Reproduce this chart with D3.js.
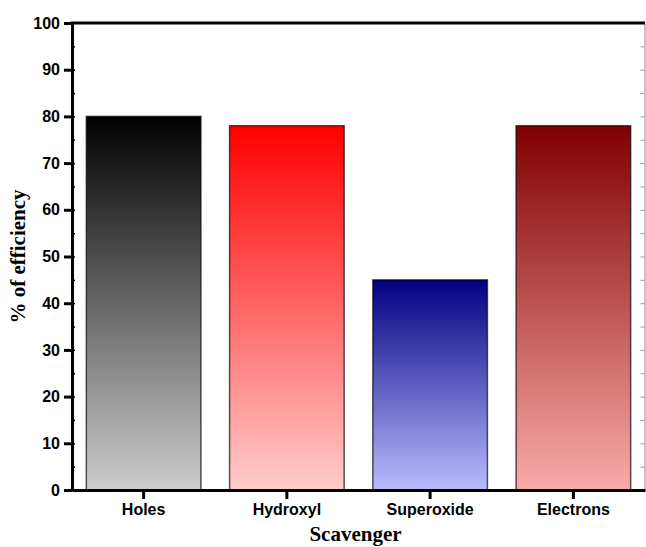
<!DOCTYPE html>
<html>
<head>
<meta charset="utf-8">
<script src="https://cdn.jsdelivr.net/npm/d3@7"></script>
<style>
	body { margin: 0; background: #fff; }
	.tick text { font-family: "Liberation Sans", Arial, sans-serif; font-weight: bold; font-size: 16px; fill: #000; }
	.title { font-family: "Liberation Serif", "Times New Roman", serif; font-weight: bold; font-size: 21px; }
</style>
</head>
<body>
<script>
const categories = ["Holes", "Hydroxyl", "Superoxide", "Electrons"];
const efficiency = [80, 78, 45, 78];
const topColors = ["#000000", "#ff0000", "#000080", "#800000"];
const bottomColors = ["#cccccc", "#ffcccc", "#bbbbff", "#faaaaa"];
const yTicks = [0, 10, 20, 30, 40, 50, 60, 70, 80, 90, 100];

const W = 646, H = 547;
const m = { top: 23, right: 1, bottom: 57, left: 72 };

const svg = d3.select("body").append("svg")
	.attr("width", W)
	.attr("height", H);

const x = d3.scaleBand()
	.domain(categories)
	.range([m.left, W - m.right])
	.paddingInner(0.2)
	.paddingOuter(0.1);

const y = d3.scaleLinear()
	.domain([0, 100])
	.range([H - m.bottom, m.top]);

const defs = svg.append("defs");
categories.forEach((c, i) => {
	const g = defs.append("linearGradient")
		.attr("id", `grad-${i}`)
		.attr("x1", 0).attr("y1", 0)
		.attr("x2", 0).attr("y2", 1);
	g.append("stop").attr("offset", "0%").attr("stop-color", topColors[i]);
	g.append("stop").attr("offset", "100%").attr("stop-color", bottomColors[i]);
});

// bars
svg.append("g")
	.selectAll("rect")
	.data(categories)
	.enter().append("rect")
	.attr("x", d => x(d))
	.attr("width", x.bandwidth())
	.attr("y", (d, i) => y(efficiency[i]))
	.attr("height", (d, i) => y(0) - y(efficiency[i]))
	.attr("fill", (d, i) => `url(#grad-${i})`)
	.attr("stroke", "#000")
	.attr("stroke-opacity", 0.65)
	.attr("stroke-width", 1.5);

// right frame (thin) with inward ticks
const right = svg.append("g")
	.attr("transform", `translate(${W - m.right - 0.5},0)`)
	.call(d3.axisRight(y).ticks(20).tickSize(-4).tickFormat(""));
right.select(".domain").attr("stroke", "#888").attr("stroke-width", 1);
right.selectAll(".tick line").attr("stroke", "#999");

// left minor ticks (inward)
svg.append("g")
	.attr("transform", `translate(${m.left},0)`)
	.call(d3.axisRight(y).ticks(20).tickSize(3).tickFormat(""))
	.call(g => g.select(".domain").remove())
	.selectAll(".tick line").attr("stroke", "#000").attr("stroke-width", 1.5);

// left axis
const left = svg.append("g")
	.attr("transform", `translate(${m.left},0)`)
	.call(d3.axisLeft(y).tickValues(yTicks).tickSize(8).tickPadding(4).tickSizeOuter(0));
left.select(".domain").attr("stroke-width", 3);
left.selectAll(".tick line").attr("stroke-width", 3);

// bottom axis
const bottom = svg.append("g")
	.attr("transform", `translate(0,${y(0)})`)
	.call(d3.axisBottom(x).tickSize(9).tickPadding(5).tickSizeOuter(0));
bottom.select(".domain").attr("stroke-width", 3);
bottom.selectAll(".tick line").attr("stroke-width", 3);

// top frame
svg.append("line")
	.attr("x1", m.left - 1.5).attr("x2", W - m.right)
	.attr("y1", y(100)).attr("y2", y(100))
	.attr("stroke", "#000")
	.attr("stroke-width", 3);

// titles
svg.append("text")
	.attr("class", "title")
	.attr("transform", `translate(25,${(y(0) + y(100)) / 2}) rotate(-90)`)
	.attr("text-anchor", "middle")
	.text("% of efficiency");

svg.append("text")
	.attr("class", "title")
	.attr("x", (m.left + W - m.right) / 2 - 3)
	.attr("y", 541)
	.attr("text-anchor", "middle")
	.text("Scavenger");
</script>
</body>
</html>
